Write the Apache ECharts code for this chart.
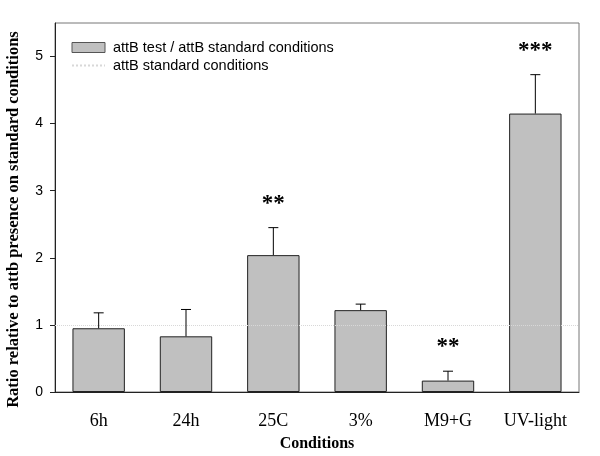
<!DOCTYPE html>
<html>
<head>
<meta charset="utf-8">
<script src="https://cdn.jsdelivr.net/npm/echarts@6/dist/echarts.min.js"></script>
<style>html,body{margin:0;padding:0;background:#fff}#c{width:600px;height:456px}</style>
</head>
<body>
<div id="c"></div>
<script>
const categories = ['6h', '24h', '25C', '3%', 'M9+G', 'UV-light'];
const ratios = [0.95, 0.83, 2.04, 1.22, 0.17, 4.15];
const errors = [0.23, 0.40, 0.41, 0.09, 0.14, 0.58];
const significance = ['', '', '**', '', '**', '***'];
const baseline = 1;
const yTicks = [0, 1, 2, 3, 4, 5];

const chart = echarts.init(document.getElementById('c'));
const errData = categories.map((c, i) => [i, ratios[i], ratios[i] + errors[i]]);
const starData = categories.map((c, i) => [i, ratios[i] + errors[i], significance[i]]);

chart.setOption({
  animation: false,
  backgroundColor: '#fff',
  grid: { left: 55, right: 21, top: 23, bottom: 64, show: true, borderColor: '#777', borderWidth: 1,
          outerBoundsMode: 'none', containLabel: false },
  legend: {
    left: 66, top: 35, orient: 'vertical', itemGap: 3, itemWidth: 33, itemHeight: 10,
    textStyle: { fontFamily: 'Liberation Sans', fontSize: 14.5, color: '#000', padding: [0, 0, 0, 3] },
    data: [
      { name: 'attB test / attB standard conditions', icon: 'rect',
        itemStyle: { color: '#c0c0c0', borderColor: '#555', borderWidth: 1 } },
      { name: 'attB standard conditions', itemStyle: { opacity: 0 } }
    ]
  },
  xAxis: {
    type: 'category', data: categories,
    name: 'Conditions', nameLocation: 'middle', nameGap: 44,
    nameTextStyle: { fontFamily: 'Liberation Serif', fontWeight: 'bold', fontSize: 16, color: '#000' },
    axisLine: { lineStyle: { color: '#222', width: 1 } },
    axisTick: { alignWithLabel: true, length: 5, lineStyle: { color: '#222' } },
    axisLabel: { fontFamily: 'Liberation Serif', fontSize: 18, color: '#000', margin: 20 }
  },
  yAxis: {
    type: 'value', min: 0, max: 5.5,
    name: 'Ratio relative to attb presence on standard conditions',
    nameLocation: 'middle', nameGap: 33,
    nameTextStyle: { fontFamily: 'Liberation Serif', fontWeight: 'bold', fontSize: 16.5, color: '#000', padding: [0, 24, 0, 0] },
    splitLine: { show: false },
    axisLine: { show: true, lineStyle: { color: '#222', width: 1 } },
    axisTick: { show: true, length: 5, customValues: yTicks, lineStyle: { color: '#222' } },
    axisLabel: { customValues: yTicks, fontFamily: 'Liberation Sans', fontSize: 14, color: '#000', margin: 12 }
  },
  series: [
    {
      name: 'attB standard conditions', type: 'line', data: [], symbol: 'none', showSymbol: false,
      lineStyle: { type: 'dotted', color: '#d8d8d8', width: 1 },
      itemStyle: { color: '#d8d8d8' },
      markLine: {
        silent: true, symbol: 'none', label: { show: false },
        lineStyle: { type: 'dotted', color: '#d8d8d8', width: 1 },
        data: [{ yAxis: baseline }]
      }
    },
    {
      name: 'attB test / attB standard conditions', type: 'bar', data: ratios,
      barWidth: '60%',
      itemStyle: { color: '#c0c0c0', borderColor: '#222', borderWidth: 1 }
    },
    {
      type: 'custom', data: errData, z: 5,
      renderItem: function (params, api) {
        const x = api.value(0);
        const p1 = api.coord([x, api.value(1)]);
        const p2 = api.coord([x, api.value(2)]);
        const style = { stroke: '#000', lineWidth: 1 };
        return {
          type: 'group', children: [
            { type: 'line', shape: { x1: p1[0], y1: p1[1], x2: p2[0], y2: p2[1] }, style: style },
            { type: 'line', shape: { x1: p2[0] - 5, y1: p2[1], x2: p2[0] + 5, y2: p2[1] }, style: style }
          ]
        };
      }
    },
    {
      type: 'custom', data: starData, z: 6,
      renderItem: function (params, api) {
        const i = params.dataIndex;
        const p = api.coord([api.value(0), api.value(1)]);
        return {
          type: 'text',
          style: {
            text: significance[i], x: p[0], y: p[1] - 24,
            align: 'center', verticalAlign: 'middle',
            font: 'bold 23px "Liberation Serif"', fill: '#000'
          }
        };
      }
    }
  ]
});
</script>
</body>
</html>
